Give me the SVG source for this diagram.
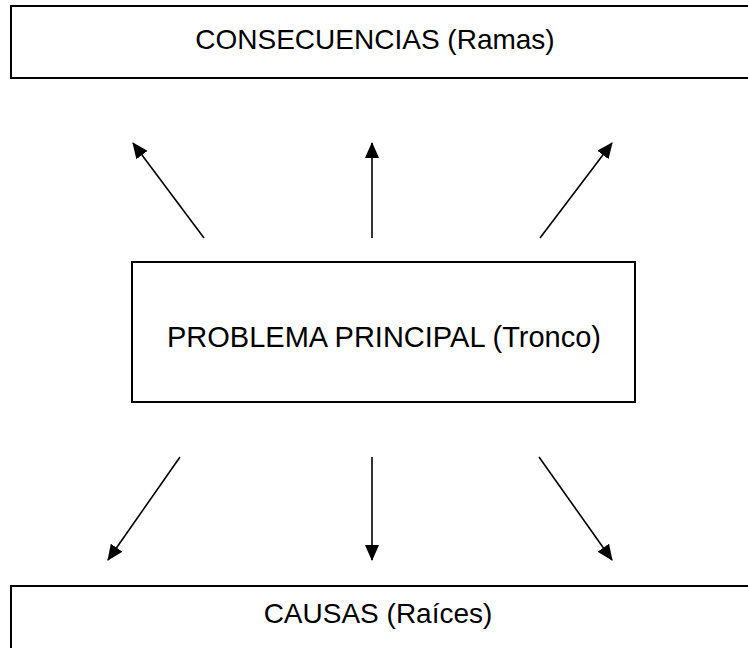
<svg xmlns="http://www.w3.org/2000/svg" width="748" height="648" viewBox="0 0 748 648">
  <defs>
    <style>
      .box { fill: #ffffff; stroke: #000000; stroke-width: 2; }
      .lbl { font-family: "Liberation Sans", Arial, sans-serif; font-size: 28px; fill: #000000; text-anchor: middle; }
      .conn line { stroke: #000000; stroke-width: 1.6; }
    </style>
    <marker id="arrow" markerUnits="userSpaceOnUse" markerWidth="16" markerHeight="14" refX="15" refY="7" orient="auto">
      <path d="M0,0 L16,7 L0,14 Z" fill="#000000"/>
    </marker>
  </defs>
  <rect width="748" height="648" fill="#ffffff"/>
  <g id="consecuencias">
    <rect class="box" x="11" y="6" width="750" height="72"/>
    <text class="lbl" x="375" y="49">CONSECUENCIAS (Ramas)</text>
  </g>
  <g id="problema">
    <rect class="box" x="132" y="262" width="503" height="140"/>
    <text class="lbl" x="384" y="347" style="font-size:29px">PROBLEMA PRINCIPAL (Tronco)</text>
  </g>
  <g id="causas">
    <rect class="box" x="11" y="586" width="750" height="80"/>
    <text class="lbl" x="378" y="623">CAUSAS (Raíces)</text>
  </g>
  <g id="connectors" class="conn">
    <line x1="204" y1="238" x2="133" y2="143" marker-end="url(#arrow)"/>
    <line x1="372" y1="238" x2="372" y2="143" marker-end="url(#arrow)"/>
    <line x1="540" y1="238" x2="612" y2="143" marker-end="url(#arrow)"/>
    <line x1="180" y1="457" x2="108" y2="560" marker-end="url(#arrow)"/>
    <line x1="372" y1="457" x2="372" y2="560" marker-end="url(#arrow)"/>
    <line x1="539" y1="457" x2="612" y2="560" marker-end="url(#arrow)"/>
  </g>
</svg>
